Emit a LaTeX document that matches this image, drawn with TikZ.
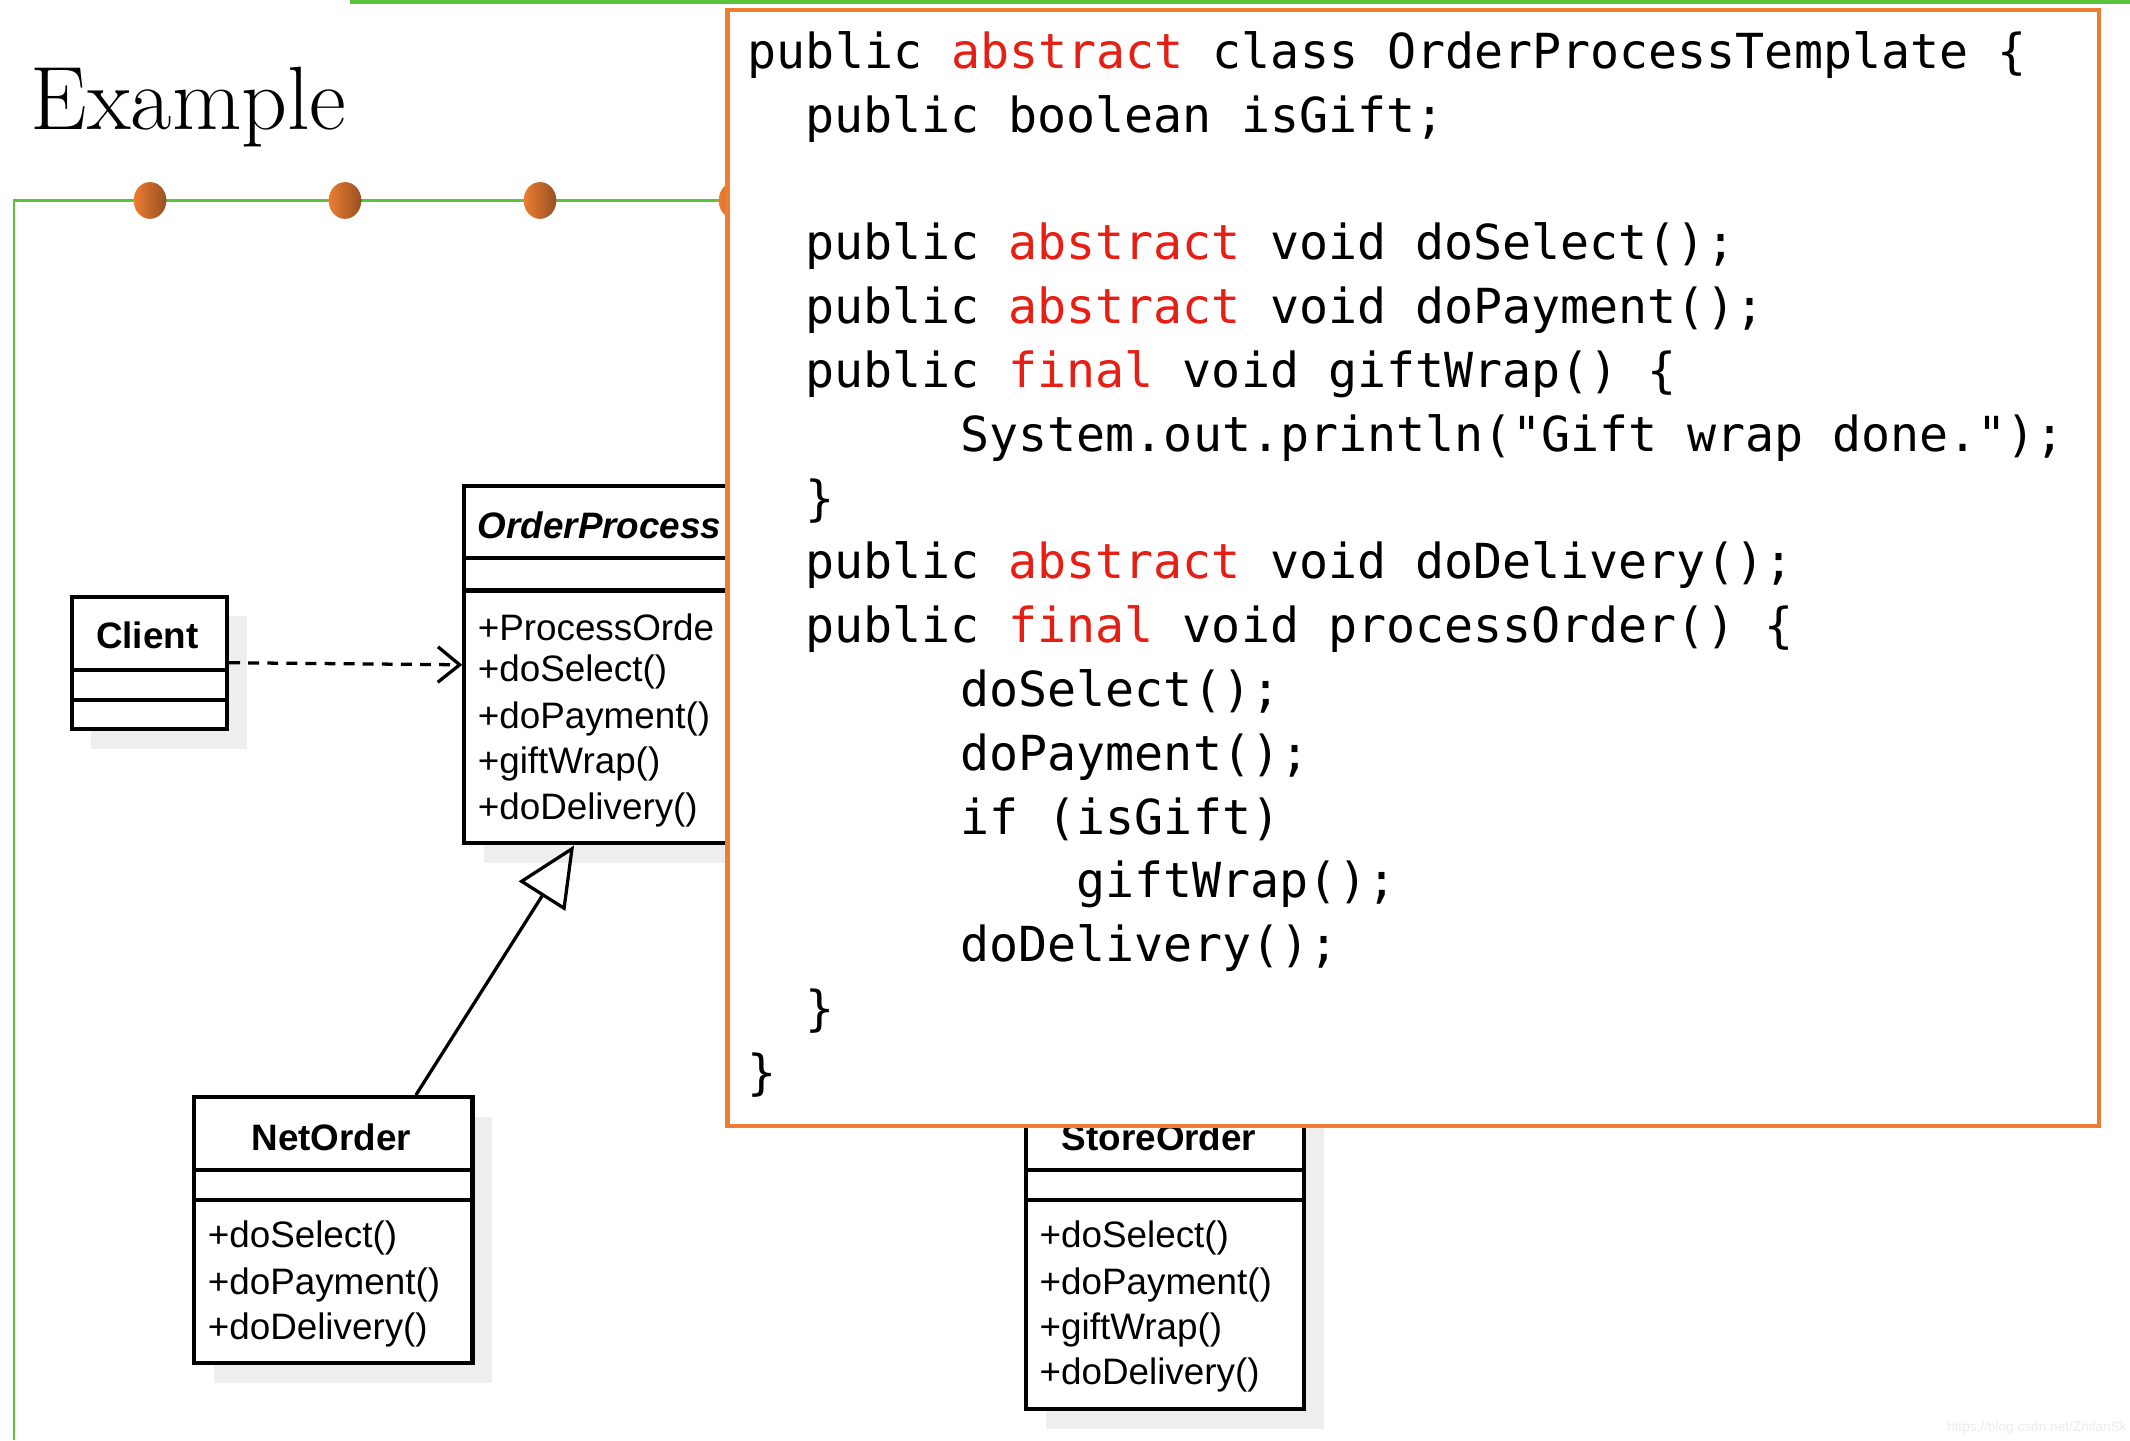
\documentclass[tikz,border=0pt]{standalone}
\usepackage{fontspec}
\newfontfamily\umlf{Liberation Sans}
\newfontfamily\codef{DejaVu Sans Mono}
\usetikzlibrary{arrows.meta,calc,shapes.geometric}
\definecolor{grn}{RGB}{92,196,59}
\definecolor{org}{RGB}{237,125,49}
\definecolor{orgdark}{RGB}{150,80,35}
\definecolor{kw}{RGB}{230,30,20}
\definecolor{shad}{RGB}{238,238,238}
\newcommand{\kwd}[1]{\textcolor{kw}{#1}}
\begin{document}
\begin{tikzpicture}[x=0.5pt,y=-0.5pt,
  box/.style={draw,line width=1.5pt,inner sep=0pt,anchor=north west,fill=white},
  sep/.style={line width=1.5pt},
  shadow/.style={fill=shad,draw=none},
  mth/.style={font=\umlf\fontsize{13.5}{14}\selectfont,anchor=west,inner sep=0pt},
  cname/.style={font=\umlf\bfseries\fontsize{13.5}{14}\selectfont,inner sep=0pt},
  code/.style={font=\codef\fontsize{17.7}{18}\selectfont,anchor=base west,inner sep=0pt},
  dot/.style={ellipse,minimum width=12pt,minimum height=13.5pt,inner sep=0pt,left color=org,right color=orgdark,draw=none}]
\useasboundingbox (0,0) rectangle (1562,1056);
% frame lines
\draw[grn,line width=2pt] (257,1) -- (1562,1);
\draw[grn,line width=0.8pt] (10,1056) -- (10,147) -- (545,147);
\node[font=\fontsize{33}{33}\selectfont,anchor=base west,inner sep=0pt] (title) at (22,95) {Example};
\foreach \i/\x in {1/110,2/253,3/396,4/539} \node[dot] (d\i) at (\x,147) {};
% shadows
\fill[shadow] (67,452) rectangle (181,549);
\fill[shadow] (355,371) rectangle (560,633);
\fill[shadow] (157,819) rectangle (361,1014);
\fill[shadow] (767,819) rectangle (971,1048);
% Client
\node[box,minimum width=57pt,minimum height=48.5pt] (client) at (51,436) {};
\draw[sep] (51,491) -- (165,491); \draw[sep] (51,513) -- (165,513);
\node[cname] (clientn) at (108,466) {Client};
% OrderProcess
\node[box,minimum width=110.5pt,minimum height=131pt] (op) at (339,355) {};
\draw[sep] (339,409) -- (560,409); \draw[sep] (339,433) -- (560,433);
\node[cname,font=\umlf\bfseries\itshape\fontsize{13.5}{14}\selectfont,anchor=west] (opn) at (350,385) {OrderProcess};
\node[mth] (op1) at (350,460) {+ProcessOrde};
\node[mth] (op2) at (350,493) {+doSelect()};
\node[mth] (op3) at (350,527) {+doPayment()};
\node[mth] (op4) at (350,560) {+giftWrap()};
\node[mth] (op5) at (350,594) {+doDelivery()};
% NetOrder
\node[box,minimum width=102pt,minimum height=97.5pt] (net) at (141,803) {};
\draw[sep] (141,858) -- (345,858); \draw[sep] (141,880) -- (345,880);
\node[cname] (netn) at (243,834) {NetOrder};
\node[mth] (n1) at (152,908) {+doSelect()};
\node[mth] (n2) at (152,942) {+doPayment()};
\node[mth] (n3) at (152,975) {+doDelivery()};
% StoreOrder
\node[box,minimum width=102pt,minimum height=114.5pt] (store) at (751,803) {};
\draw[sep] (751,858) -- (955,858); \draw[sep] (751,880) -- (955,880);
\node[cname] (storen) at (850,834) {StoreOrder};
\node[mth] (s1) at (762,908) {+doSelect()};
\node[mth] (s2) at (762,942) {+doPayment()};
\node[mth] (s3) at (762,975) {+giftWrap()};
\node[mth] (s4) at (762,1008) {+doDelivery()};
% connectors
\draw[line width=1.2pt,dash pattern=on 4pt off 3pt,-{Straight Barb[length=8pt,width=13pt,line width=1.2pt]}] (client.east) -- (op.west);
\draw[line width=1.2pt,-{Triangle[open,length=22pt,width=20pt,line width=1.2pt]}] ([xshift=82pt]net.north west) -- ([xshift=41pt]op.south west);
% code box
\node[box,draw=org,minimum width=503pt,minimum height=409pt] (codebox) at (532,6) {};
\node[code] (l1) at (548,50) {public \kwd{abstract} class OrderProcessTemplate \{};
\node[code] (l2) at (590,97) {public boolean isGift;};
\node[code] (l3) at (590,190) {public \kwd{abstract} void doSelect();};
\node[code] (l4) at (590,237) {public \kwd{abstract} void doPayment();};
\node[code] (l5) at (590,284) {public \kwd{final} void giftWrap() \{};
\node[code] (l6) at (704,331) {System.out.println("Gift wrap done.");};
\node[code] (l7) at (590,378) {\}};
\node[code] (l8) at (590,424) {public \kwd{abstract} void doDelivery();};
\node[code] (l9) at (590,471) {public \kwd{final} void processOrder() \{};
\node[code] (l10) at (704,518) {doSelect();};
\node[code] (l11) at (704,565) {doPayment();};
\node[code] (l12) at (704,612) {if (isGift)};
\node[code] (l13) at (789,658) {giftWrap();};
\node[code] (l14) at (704,705) {doDelivery();};
\node[code] (l15) at (590,752) {\}};
\node[code] (l16) at (548,799) {\}};
% watermark
\node[font=\umlf\fontsize{5}{6}\selectfont,text=gray!15,anchor=base east,inner sep=0pt] (wm) at (1560,1050) {https://blog.csdn.net/ZhifanSk};
\end{tikzpicture}
\end{document}
